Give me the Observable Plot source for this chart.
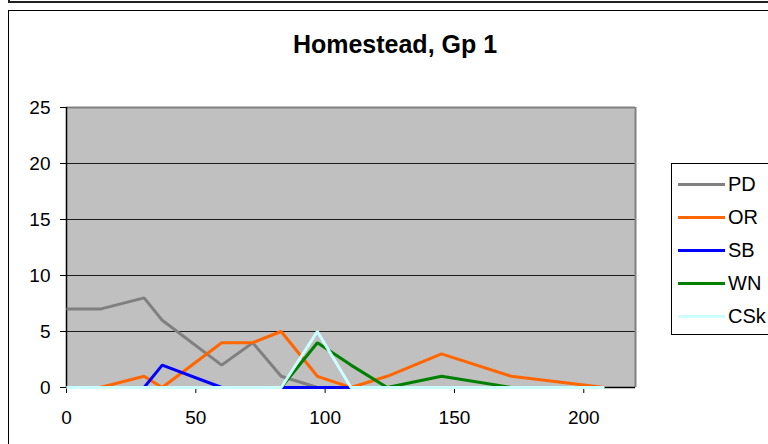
<!DOCTYPE html>
<html>
<head>
<meta charset="utf-8">
<script src="https://cdn.jsdelivr.net/npm/d3@7"></script>
<script src="https://cdn.jsdelivr.net/npm/@observablehq/plot@0.6"></script>
<style>
  html, body { margin: 0; padding: 0; background: #fff; }
  #wrap { position: relative; width: 768px; height: 444px; overflow: hidden; font-family: "Liberation Sans", Arial, sans-serif; }
  #topbox { position: absolute; left: 8px; top: -20px; width: 800px; height: 19px; border: 2px solid #222; }
  #chartbox { position: absolute; left: 8px; top: 10px; width: 800px; height: 500px; border: 1px solid #000; }
  #title { position: absolute; left: 0; width: 790px; top: 30px; text-align: center; font-weight: bold; font-size: 25px; color: #000; }
  #plot { position: absolute; left: 0; top: 0; }
  #legend { position: absolute; left: 671px; top: 163px; width: 200px; height: 170px; border: 1px solid #000; background: #fff; }
  .li { position: absolute; left: 0; height: 24px; display: flex; align-items: center; font-size: 20px; color: #000; }
  .li span.sw { display: inline-block; width: 47px; height: 3px; margin-left: 6px; margin-right: 3px; }
</style>
</head>
<body>
<div id="wrap">
  <div id="topbox"></div>
  <div id="chartbox"></div>
  <div id="title">Homestead, Gp 1</div>
  <div id="plot"></div>
  <div id="legend"></div>
</div>
<script>
const days = [0, 13, 30, 37, 60, 72, 83, 97, 110, 124, 145, 172, 208];
const seriesNames = ["PD", "OR", "SB", "WN", "CSk"];
const seriesColors = ["#808080", "#FF6600", "#0000FF", "#008000", "#CCFFFF"];
const PD  = [7, 7, 8, 6, 2, 4, 1, 0, 0, 0, 0, 0, 0];
const OR  = [0, 0, 1, 0, 4, 4, 5, 1, 0, 1, 3, 1, 0];
const SB  = [null, null, 0, 2, 0, 0, 0, 0, 0, null, null, null, null];
const WN  = [0, 0, 0, 0, 0, 0, 0, 4, 2, 0, 1, 0, 0];
const CSk = [0, 0, 0, 0, 0, 0, 0, 5, 0, 0, 0, 0, 0];
const xTicks = [0, 50, 100, 150, 200];
const yTicks = [0, 5, 10, 15, 20, 25];

const seriesValues = [PD, OR, SB, WN, CSk];
const rows = [];
seriesNames.forEach((name, i) => {
  days.forEach((d, j) => {
    const v = seriesValues[i][j];
    if (v !== null) rows.push({series: name, day: d, value: v});
  });
});

const chart = Plot.plot({
  width: 768,
  height: 444,
  marginLeft: 66,
  marginRight: 133,
  marginTop: 107,
  marginBottom: 57,
  style: { fontFamily: "Liberation Sans, Arial, sans-serif", fontSize: "19px", background: "transparent", color: "#000", overflow: "visible" },
  x: { domain: [0, 220], ticks: xTicks },
  y: { domain: [0, 25], ticks: yTicks },
  color: { domain: seriesNames, range: seriesColors },
  marks: [
    Plot.frame({ fill: "#c0c0c0", stroke: null }),
    Plot.gridY(yTicks.filter(t => t > 0 && t < 25), { stroke: "#000", strokeOpacity: 0.85, strokeWidth: 1 }),
    Plot.ruleY([25], { stroke: "#808080", strokeWidth: 2 }),
    Plot.ruleX([220], { stroke: "#808080", strokeWidth: 2 }),
    Plot.ruleX([0], { stroke: "#000", strokeWidth: 1.5 }),
    Plot.ruleY([0], { stroke: "#000", strokeWidth: 1.5 }),
    Plot.axisY({ ticks: yTicks, tickSize: 6, tickPadding: 10, label: null, fontSize: 19 }),
    Plot.axisX({ ticks: xTicks, tickSize: 6, tickPadding: 17, label: null, fontSize: 19 }),
    Plot.line(rows, { x: "day", y: "value", z: "series", stroke: "series", strokeWidth: 3, strokeLinejoin: "miter", strokeLinecap: "butt" })
  ]
});
document.getElementById("plot").appendChild(chart);

const legend = document.getElementById("legend");
seriesNames.forEach((name, i) => {
  const item = document.createElement("div");
  item.className = "li";
  item.style.top = (8 + i * 33.2) + "px";
  const sw = document.createElement("span");
  sw.className = "sw";
  sw.style.background = seriesColors[i];
  item.appendChild(sw);
  const t = document.createElement("span");
  t.textContent = name;
  item.appendChild(t);
  legend.appendChild(item);
});
</script>
</body>
</html>
